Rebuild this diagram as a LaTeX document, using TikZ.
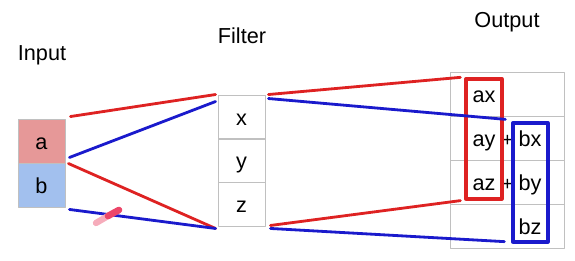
\documentclass[tikz,border=0pt]{standalone}
\usepackage{fontspec}
\setmainfont{Liberation Sans}
\usetikzlibrary{calc}
\definecolor{redline}{RGB}{222,34,34}
\definecolor{blueline}{RGB}{26,26,204}
\definecolor{cellred}{RGB}{230,152,152}
\definecolor{cellblue}{RGB}{162,192,238}
\definecolor{gridgray}{RGB}{192,192,192}
\definecolor{smear}{RGB}{236,70,105}
\begin{document}
\begin{tikzpicture}[x=0.03cm,y=-0.03cm,line cap=round,line join=round,
  txt/.style={font=\fontsize{18.5}{20}\selectfont,text height=16pt,text depth=1.5pt,inner sep=0pt},
  cell/.style={txt,draw=gridgray,line width=0.8pt,minimum width=1.41cm,minimum height=1.32cm},
  row/.style={draw=gridgray,line width=0.8pt,minimum width=3.42cm,minimum height=1.32cm,inner sep=0pt},
  head/.style={font=\fontsize{18.5}{20}\selectfont,anchor=base,inner sep=0pt},
  redwire/.style={draw=redline,line width=2.4pt},
  bluewire/.style={draw=blueline,line width=2.4pt}]
  \useasboundingbox (0,0) rectangle (575,261);
  \node[head] (input) at (42,61) {Input};
  \node[head] (filter) at (242,44) {Filter};
  \node[head] (output) at (507,28) {Output};
  \node[cell,fill=cellred] (a) at (41.5,141) {a};
  \node[cell,fill=cellblue] (b) at (41.5,185) {b};
  \node[cell] (x) at (241.5,117) {x};
  \node[cell] (y) at (241.5,160.5) {y};
  \node[cell] (z) at (241.5,204) {z};
  \node[row] (row1) at (507,94) {};
  \node[row] (row2) at (507,138) {};
  \node[row] (row3) at (507,182) {};
  \node[row] (row4) at (507,226) {};
  \node[txt] (ax) at (484,94) {ax};
  \node[txt] (ay) at (484,138) {ay};
  \node[txt] (az) at (484,182) {az};
  \node[txt] (bx) at (530,138) {bx};
  \node[txt] (by) at (530,182) {by};
  \node[txt] (bz) at (530,226) {bz};
  \node[txt,font=\fontsize{16.5}{18}\selectfont] (plus2) at (507.5,138) {+};
  \node[txt,font=\fontsize{16.5}{18}\selectfont] (plus3) at (507.5,182) {+};
  \node[draw=redline,line width=2.8pt,minimum width=1.08cm,minimum height=3.6cm] (abox) at (484,139) {};
  \node[draw=blueline,line width=2.8pt,minimum width=1.05cm,minimum height=3.57cm] (bbox) at (530.5,182.5) {};
  \draw[redwire] ($(a.north east)+(5,-2)$) -- ($(x.north west)+(-2,0)$);
  \draw[bluewire] ($(a.south east)+(4,-6)$) -- ($(x.north west)+(-2,7)$);
  \draw[redwire] ($(b.north east)+(3,1)$) -- ($(z.south west)+(-2,2)$);
  \draw[bluewire] ($(b.south east)+(4,2)$) -- ($(z.south west)+(-2,2)$);
  \draw[redwire] ($(x.north east)+(3,0)$) -- ($(abox.north west)+(-4,0)$);
  \draw[bluewire] ($(x.north east)+(3,4)$) -- ($(bbox.north west)+(-6,-2)$);
  \draw[redwire] ($(z.south east)+(5,-1)$) -- ($(abox.south west)+(-4,0)$);
  \draw[bluewire] ($(z.south east)+(5,2)$) -- ($(bbox.south west)+(-7,-2)$);
  \draw[smear!45,line width=0.19cm] (96,223) -- (108,216);
  \draw[smear,line width=0.2cm] (108,216) -- (119,210);
\end{tikzpicture}
\end{document}
